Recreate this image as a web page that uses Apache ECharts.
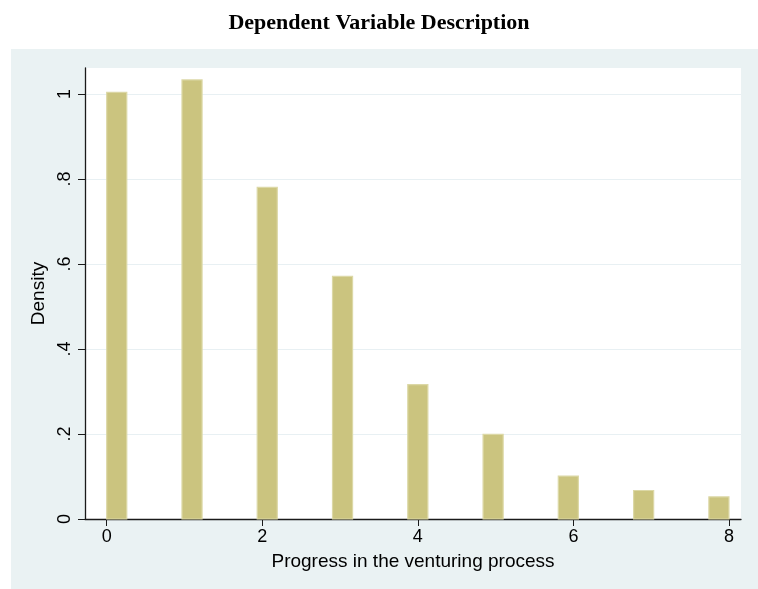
<!DOCTYPE html>
<html>
<head>
<meta charset="utf-8">
<script src="https://cdn.jsdelivr.net/npm/echarts@6/dist/echarts.min.js"></script>
<style>
html,body{margin:0;padding:0;background:#ffffff;}
#chart{width:758px;height:589px;}
</style>
</head>
<body>
<div id="chart"></div>
<script>
// Data
const binLeft = [0, 0.968, 1.935, 2.903, 3.871, 4.839, 5.806, 6.774, 7.742];
const binWidth = 0.258;
const density = [1.004, 1.033, 0.780, 0.571, 0.316, 0.199, 0.101, 0.067, 0.052];
const xTicks = [0, 2, 4, 6, 8];
const yTicks = [0, 0.2, 0.4, 0.6, 0.8, 1];
const titleText = 'Dependent Variable Description';
const xName = 'Progress in the venturing process';
const yName = 'Density';

const seriesData = binLeft.map((l, i) => [l, density[i]]);

const chart = echarts.init(document.getElementById('chart'));
chart.setOption({
  animation: false,
  backgroundColor: '#ffffff',
  graphic: [{
    type: 'rect', z: -10, silent: true,
    shape: {x: 11, y: 49, width: 747, height: 540},
    style: {fill: '#eaf2f3'}
  }],
  title: {
    text: titleText, left: 'center', top: 7,
    textStyle: {fontFamily: 'Liberation Serif', fontWeight: 'bold', fontSize: 22, color: '#000'}
  },
  grid: {
    left: 85, top: 68, right: 17, bottom: 70,
    show: true, backgroundColor: '#ffffff', borderWidth: 0
  },
  xAxis: {
    type: 'value', min: -0.279, max: 8.155,
    name: xName, nameLocation: 'middle', nameGap: 33,
    nameTextStyle: {fontFamily: 'Liberation Sans', fontSize: 19, color: '#000'},
    axisLine: {show: true, onZero: false, lineStyle: {color: '#1a1a1a', width: 1.3}},
    axisTick: {show: true, length: 7, customValues: xTicks, lineStyle: {color: '#1a1a1a'}},
    axisLabel: {customValues: xTicks, fontFamily: 'Liberation Sans', fontSize: 18, color: '#000', margin: 9},
    splitLine: {show: false}
  },
  yAxis: {
    type: 'value', min: 0, max: 1.061, interval: 0.2,
    name: yName, nameLocation: 'middle', nameGap: 31, nameRotate: 90,
    nameTextStyle: {fontFamily: 'Liberation Sans', fontSize: 19, color: '#000'},
    axisLine: {show: true, onZero: false, lineStyle: {color: '#1a1a1a', width: 1.3}},
    axisTick: {show: true, length: 7, customValues: yTicks, lineStyle: {color: '#1a1a1a'}},
    axisLabel: {
      customValues: yTicks, rotate: 90, fontFamily: 'Liberation Sans', fontSize: 18, color: '#000', margin: 11,
      formatter: v => (v === 0 ? '0' : (Math.abs(v - 1) < 1e-9 ? '1' : String(Math.round(v * 10) / 10).replace(/^0/, '')))
    },
    splitLine: {show: true, lineStyle: {color: '#e8f0f3', width: 1.2}}
  },
  series: [{
    type: 'custom',
    data: seriesData,
    renderItem: function (params, api) {
      const l = api.value(0), d = api.value(1);
      const p0 = api.coord([l, 0]);
      const p1 = api.coord([l + binWidth, d]);
      return {
        type: 'rect',
        shape: {x: p0[0], y: p1[1], width: p1[0] - p0[0], height: p0[1] - p1[1]},
        style: {fill: '#cbc47f', stroke: '#dcd8a6', lineWidth: 1.2}
      };
    },
    encode: {x: 0, y: 1},
    z: 2
  }]
});
</script>
</body>
</html>
